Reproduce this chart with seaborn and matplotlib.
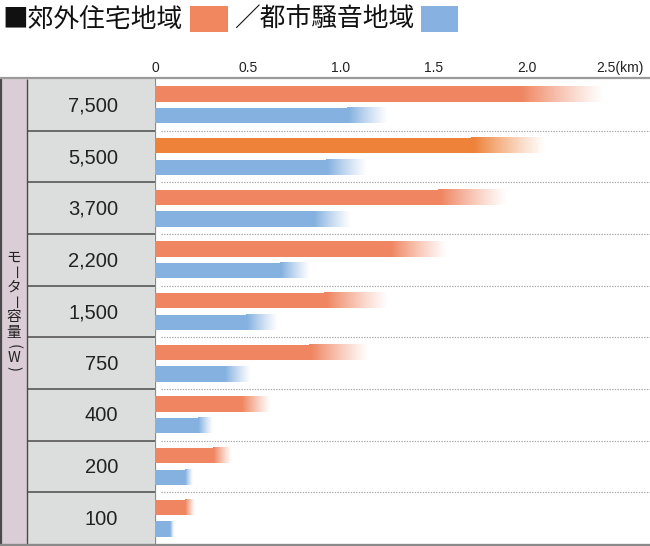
import numpy as np
import pandas as pd
import matplotlib
matplotlib.use("Agg")
import matplotlib.pyplot as plt
from matplotlib.patches import Rectangle
from matplotlib.lines import Line2D
from matplotlib.colors import to_rgb
import seaborn as sns

# ---------------- data ----------------
categories = ["7,500", "5,500", "3,700", "2,200", "1,500", "750", "400", "200", "100"]
series = ["郊外住宅地域", "都市騒音地域"]
suburban_solid = [1.95, 1.70, 1.52, 1.26, 0.91, 0.83, 0.46, 0.31, 0.16]
suburban_fade = [2.41, 2.10, 1.89, 1.57, 1.25, 1.15, 0.62, 0.41, 0.21]
urban_solid = [1.03, 0.92, 0.85, 0.67, 0.49, 0.37, 0.23, 0.16, 0.08]
urban_fade = [1.25, 1.14, 1.05, 0.83, 0.66, 0.51, 0.31, 0.20, 0.10]
tick_values = [0, 0.5, 1.0, 1.5, 2.0, 2.5]
tick_labels = ["0", "0.5", "1.0", "1.5", "2.0", "2.5(km)"]
axis_title_chars = ["モ", "ー", "タ", "ー", "容", "量", "(", "W", ")"]
highlight_category = "5,500"

# ---------------- style ----------------
sns.set_style("white")
plt.rcParams["font.family"] = ["Liberation Sans", "Noto Sans CJK JP", "DejaVu Sans"]
CJK = ["Noto Sans CJK JP", "DejaVu Sans"]

W, H = 650, 546
ORANGE = "#EF8661"
ORANGE_HI = "#EE8239"
BLUE = "#85B1E0"
PINK = "#DACDD6"
GRAY = "#DCDDDD"
TXT = "#222222"

fig = plt.figure(figsize=(W / 100, H / 100), dpi=100)


def fx(x):
    return x / W


def fy(y):
    return 1 - y / H


top_px, bot_px, left_px = 79, 544, 155
px_per_km = 186.0

ax = fig.add_axes([fx(left_px), fy(bot_px), fx(W - left_px), (bot_px - top_px) / H])

df = pd.DataFrame({
    "capacity": categories * 2,
    "value": suburban_solid + urban_solid,
    "series": [series[0]] * len(categories) + [series[1]] * len(categories),
})

sns.barplot(data=df, y="capacity", x="value", hue="series", order=categories,
            hue_order=series, palette=[ORANGE, BLUE], orient="h", width=0.84,
            gap=0.3, saturation=1, legend=False, linewidth=0, ax=ax, zorder=3)

fade_ends = [suburban_fade, urban_fade]
base_colors = [ORANGE, BLUE]
for ci, cont in enumerate(ax.containers):
    for bi, patch in enumerate(cont.patches):
        col = base_colors[ci]
        if ci == 0 and categories[bi] == highlight_category:
            col = ORANGE_HI
            patch.set_facecolor(col)
        x0 = patch.get_width()
        x1 = fade_ends[ci][bi]
        y0 = patch.get_y()
        h = patch.get_height()
        n = 300
        t = np.linspace(0, 1, n)
        img = np.zeros((1, n, 4))
        img[0, :, :3] = to_rgb(col)
        img[0, :, 3] = np.clip(1.05 * (1 - t) ** 1.15, 0, 1)
        ax.imshow(img, extent=[x0, x1, y0, y0 + h], aspect="auto",
                  interpolation="nearest", interpolation_stage="rgba", zorder=3)

xmax = (W - left_px) / px_per_km
ax.set_xlim(0, xmax)
ax.set_ylim(len(categories) - 0.5, -0.5)

# dotted separators
for i in range(len(categories) - 1):
    ax.hlines(i + 0.5, 0.03, xmax, colors="#a5a5a5", linestyles=(0, (1.2, 1.2)),
              linewidth=0.8, zorder=1)

ax.set_yticks([])
ax.set_ylabel("")
ax.set_xlabel("")
ax.xaxis.tick_top()
ax.set_xticks(tick_values)
ax.set_xticklabels(tick_labels, fontsize=10, color=TXT)
ax.tick_params(axis="x", length=0, pad=3)
for s in ["top", "right", "bottom"]:
    ax.spines[s].set_visible(False)
ax.spines["left"].set_color("#8a8a8a")
ax.spines["left"].set_linewidth(1.6)
ax.grid(False)

# ---------------- left label columns ----------------
axL = fig.add_axes([0, fy(bot_px), fx(left_px), (bot_px - top_px) / H])
axL.set_xlim(0, left_px)
axL.set_ylim(len(categories) - 0.5, -0.5)
axL.axis("off")
axL.add_patch(Rectangle((0, -0.5), 27, len(categories), facecolor=PINK, edgecolor="none"))
axL.add_patch(Rectangle((27, -0.5), left_px - 27, len(categories), facecolor=GRAY, edgecolor="none"))
for i in range(len(categories) - 1):
    axL.hlines(i + 0.5, 27, left_px, colors="#4a4a4a", linewidth=1.1)
axL.vlines(0.8, -0.5, len(categories) - 0.5, colors="#4a4a4a", linewidth=1.6)
axL.vlines(27, -0.5, len(categories) - 0.5, colors="#4a4a4a", linewidth=1.0)
for i, c in enumerate(categories):
    axL.text(118, i + 0.02, c, ha="right", va="center", fontsize=14.5, color=TXT)

# vertical axis title (stacked characters, vertical writing)
advance = {"ー": 14, "(": 10, ")": 10, "W": 12}
sizes = [advance.get(ch, 16) for ch in axis_title_chars]
total = sum(sizes)
y_center = (top_px + bot_px) / 2
ypos = y_center - total / 2
for ch, sz in zip(axis_title_chars, sizes):
    yc = ypos + sz / 2
    ypos += sz
    rot = -90 if ch in ("ー", "(", ")") else 0
    fig.text(fx(13.5), fy(yc), ch, ha="center", va="center", rotation=rot,
             rotation_mode="anchor", fontsize=10.5, family=CJK, color=TXT)

# ---------------- frame lines ----------------
fig.add_artist(Line2D([0, 1], [fy(78.5), fy(78.5)], transform=fig.transFigure,
                      color="#9a9a9a", linewidth=1.6))
fig.add_artist(Line2D([0, 1], [fy(544.5), fy(544.5)], transform=fig.transFigure,
                      color="#8a8a8a", linewidth=2.4))

# ---------------- header legend ----------------
fig.text(fx(2), fy(20), "■" + series[0], ha="left", va="center", fontsize=18.5,
         family=CJK, color="#111111")
fig.add_artist(Rectangle((fx(190), fy(32)), 38 / W, 26 / H, transform=fig.transFigure,
                         facecolor="#F0875F", edgecolor="none"))
fig.text(fx(234), fy(20), "／" + series[1], ha="left", va="center", fontsize=18.5,
         family=CJK, color="#111111")
fig.add_artist(Rectangle((fx(421), fy(32)), 37 / W, 26 / H, transform=fig.transFigure,
                         facecolor="#86B1E0", edgecolor="none"))

fig.savefig("out.png", dpi=100)
